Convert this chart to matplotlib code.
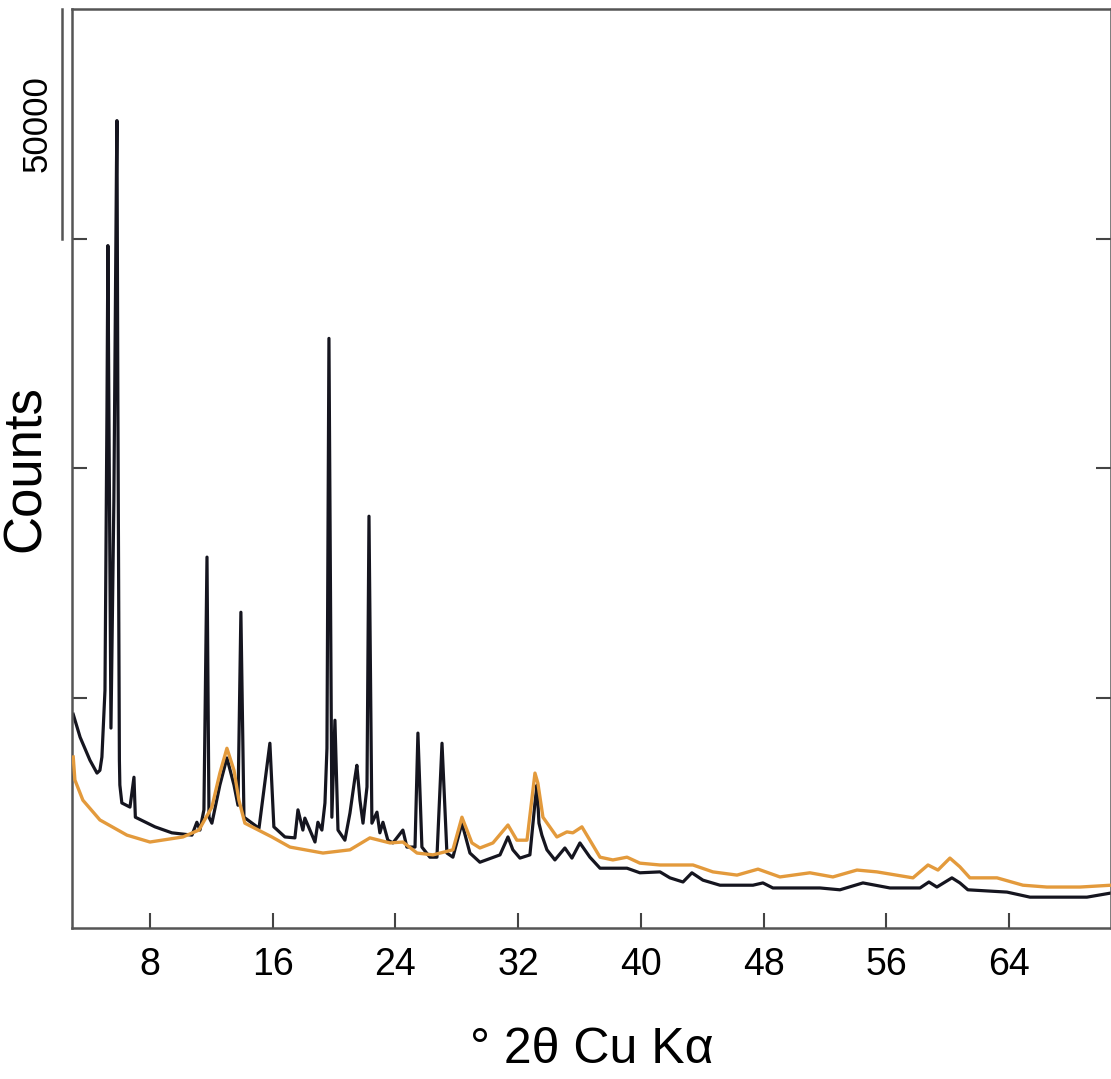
import matplotlib
matplotlib.use('Agg')
import matplotlib.pyplot as plt
import matplotlib.transforms as mtransforms

plt.rcParams['font.family'] = ['Liberation Sans', 'DejaVu Sans']

# sample (black trace) - 2theta and counts
two_theta_a = [3.0, 3.45, 4.09, 4.55, 4.74, 4.87, 5.07, 5.20, 5.26, 5.33, 5.46,
               5.65, 5.82, 5.85,
               5.91, 6.01, 6.04, 6.17, 6.70, 6.96, 7.05, 8.33, 9.43, 10.74,
               11.06, 11.26, 11.52, 11.72, 11.85, 12.04, 12.56, 13.02, 13.48,
               13.74, 13.93, 14.13, 15.11, 15.82, 16.08, 16.80, 17.45, 17.65,
               17.97, 18.10, 18.43, 18.76, 18.95, 19.21, 19.41, 19.54, 19.67,
               19.86, 20.06, 20.26, 20.71, 21.04, 21.36, 21.49, 21.69, 21.89,
               22.15, 22.28, 22.47, 22.80, 22.99, 23.19, 23.51, 23.84, 24.49,
               24.75, 25.28, 25.47, 25.73, 26.25, 26.71, 27.04, 27.36, 27.75,
               28.34, 28.86, 29.51, 30.82, 31.34, 31.66, 32.12, 32.77, 33.10,
               33.23, 33.36, 33.55, 33.88, 34.40, 35.05, 35.51, 36.03, 36.68,
               37.34, 38.18, 39.10, 39.94, 41.25, 41.90, 42.75, 43.33, 44.05,
               45.16, 47.31, 47.96, 48.61, 51.68, 52.98, 54.48, 56.24, 58.20,
               58.78, 59.30, 60.28, 60.80, 61.32, 63.87, 65.37, 69.08, 70.65]
counts_a = [46500, 41500, 36500, 33700, 34300, 37200, 51700, 112600, 148500,
            110400, 43500, 93000,
            165900, 175700, 114800, 36500, 31100, 27200, 26300, 32800, 24100,
            22000, 20700, 20200, 23000, 21300, 25700, 80700, 24100, 22800,
            31100, 37000, 31100, 26700, 68700, 24100, 21700, 40200, 22000,
            19800, 19600, 25700, 21300, 23900, 21300, 18700, 23000, 21300,
            27200, 39100, 128300, 24100, 45200, 21300, 19100, 25000, 32600,
            35400, 27800, 22800, 30700, 89600, 22800, 25200, 20700, 23000,
            19100, 18500, 21300, 17600, 17600, 42400, 17600, 15400, 15400,
            40200, 16300, 15400, 22800, 16300, 14300, 15900, 19800, 17000,
            15200, 15900, 27200, 31100, 22800, 20200, 17000, 14800, 17400,
            15200, 18500, 15400, 13000, 13000, 13000, 12000, 12200, 10900,
            10000, 12000, 10400, 9300, 9300, 9800, 8700, 8700, 8300, 9800,
            8700, 8700, 10000, 8900, 10900, 9800, 8300, 7800, 6700, 6700, 7600]

# second sample (orange trace)
two_theta_b = [3.0, 3.11, 3.63, 4.74, 6.50, 8.0, 10.15, 11.19, 12.04, 12.56,
               13.02, 13.48, 13.80, 14.19, 15.95, 17.13, 19.28, 21.04, 22.34,
               23.65, 24.49, 25.41, 26.45, 27.75, 28.34, 28.99, 29.51, 30.36,
               31.34, 31.92, 32.58, 33.10, 33.29, 33.62, 34.53, 35.18, 35.57,
               36.16, 36.68, 37.34, 38.18, 39.10, 39.94, 41.25, 43.40, 44.70,
               46.27, 47.64, 49.07, 51.02, 52.52, 54.09, 55.39, 57.74, 58.72,
               59.37, 60.15, 60.80, 61.45, 63.22, 64.91, 66.47, 68.63, 70.65]
counts_b = [37200, 32200, 27800, 23500, 20200, 18700, 19800, 21300, 26300,
            33700, 39100, 34300, 27800, 22800, 19800, 17600, 16300, 17000,
            19600, 18500, 18700, 16300, 15900, 17000, 24100, 18500, 17400,
            18500, 22400, 19100, 19100, 33700, 31500, 24100, 19800, 20900,
            20700, 22000, 19100, 15400, 14800, 15400, 14100, 13700, 13700,
            12200, 11500, 12800, 11100, 12000, 11100, 12600, 12200, 10900,
            13700, 12600, 15200, 13300, 10900, 10900, 9300, 8900, 8900, 9300]

x_ticks = [8, 16, 24, 32, 40, 48, 56, 64]
y_ticks = [50000, 100000, 150000]

fig = plt.figure(figsize=(11.11, 10.79), dpi=100)
ax = fig.add_axes([0.0648, 0.140, 0.9352, 0.8517])

ax.plot(two_theta_a, counts_a, color='#15151f', linewidth=2.3, zorder=2)
ax.plot(two_theta_b, counts_b, color='#e39a3c', linewidth=2.4, zorder=3)

ax.set_xlim(2.92, 70.65)
ax.set_ylim(0, 200000)

ax.set_xticks(x_ticks)
ax.set_yticks(y_ticks)
ax.set_yticklabels([])
ax.tick_params(axis='x', direction='in', length=11, width=1.5, color='#444444',
               labelsize=27, pad=14)
ax.tick_params(axis='y', direction='in', length=11, width=1.5, color='#444444',
               left=True, right=True)

for s in ax.spines.values():
    s.set_color('#555555')
    s.set_linewidth(1.8)

ax.set_xlabel('° 2θ Cu Kα', fontsize=36)
ax.xaxis.set_label_coords(0.5, -0.108)
ax.set_ylabel('Counts', fontsize=38)
ax.yaxis.set_label_coords(-0.020, 0.5)

# scale bar for 50000 counts, outside the left spine
trans = mtransforms.blended_transform_factory(ax.transAxes, ax.transData)
ax.plot([-0.0096, -0.0096], [150000, 200000], transform=trans, color='#555555',
        linewidth=1.8, clip_on=False)
ax.text(-0.034, 175000, '50000', transform=trans, rotation=90, fontsize=25,
        ha='center', va='center')

fig.savefig('out.png', dpi=100)
